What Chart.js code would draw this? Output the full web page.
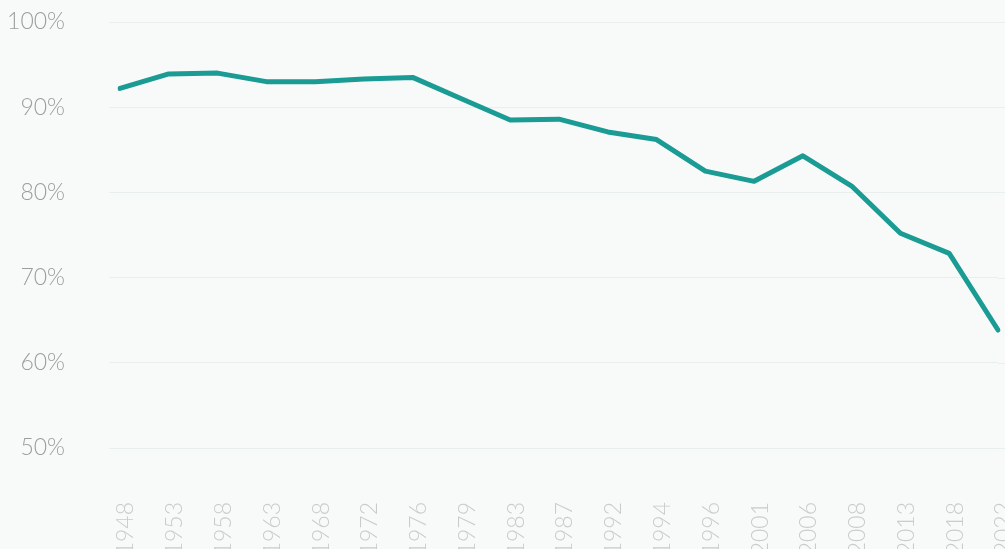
<!DOCTYPE html>
<html>
<head>
<meta charset="utf-8">
<script src="https://cdn.jsdelivr.net/npm/chart.js@4.4.1/dist/chart.umd.min.js"></script>
<style>
  html, body { margin: 0; padding: 0; background: #f8fafa; overflow: hidden; }
  #wrap { width: 1005px; height: 549px; overflow: hidden; position: relative; }
  canvas { position: absolute; left: 0; top: 0; }
</style>
</head>
<body>
<div id="wrap"><canvas id="c" width="1005" height="600"></canvas></div>
<script>
const years = ["1948","1953","1958","1963","1968","1972","1976","1979","1983","1987","1992","1994","1996","2001","2006","2008","2013","2018","2022"];
const shareValues = [92.2, 93.9, 94.0, 93.0, 93.0, 93.3, 93.5, 91.0, 88.5, 88.6, 87.1, 86.2, 82.5, 81.3, 84.3, 80.75, 75.2, 72.85, 63.85];
const yTicks = [50, 60, 70, 80, 90, 100];

const fontFamily = "Lato, 'Open Sans', sans-serif";

const gridExtend = {
  id: 'gridExtend',
  beforeDatasetsDraw(chart) {
    const y = chart.scales.y, ctx = chart.ctx, a = chart.chartArea;
    ctx.save();
    ctx.strokeStyle = '#e9eeee';
    ctx.lineWidth = 1;
    yTicks.forEach(v => {
      const py = Math.round(y.getPixelForValue(v)) + 0.5;
      ctx.beginPath(); ctx.moveTo(a.right, py); ctx.lineTo(chart.width, py); ctx.stroke();
    });
    ctx.restore();
  }
};

new Chart(document.getElementById('c'), {
  type: 'line',
  data: {
    labels: years,
    datasets: [{
      data: shareValues,
      borderColor: '#1a9b94',
      borderWidth: 5,
      pointRadius: 0,
      tension: 0,
      fill: false,
      borderCapStyle: 'round',
      borderJoinStyle: 'round'
    }]
  },
  plugins: [gridExtend],
  options: {
    responsive: false,
    animation: false,
    devicePixelRatio: 1,
    layout: { padding: { top: 22, right: 7, left: 0, bottom: 0 } },
    plugins: { legend: { display: false }, tooltip: { enabled: false } },
    scales: {
      x: {
        offset: false,
        grid: { display: false },
        border: { display: false },
        afterFit: (axis) => { axis.height = 152; axis.paddingLeft = 0; axis.paddingRight = 0; },
        ticks: {
          color: '#c9cccc',
          font: { family: fontFamily, size: 23, weight: 300 },
          minRotation: 90,
          maxRotation: 90,
          autoSkip: false,
          padding: 46,
          labelOffset: 6
        }
      },
      y: {
        min: 50,
        max: 100,
        afterBuildTicks: (axis) => { axis.ticks = yTicks.map(v => ({ value: v })); },
        afterFit: (axis) => { axis.width = 120; axis.paddingTop = 0; axis.paddingBottom = 0; },
        grid: { color: '#e9eeee', lineWidth: 1, tickLength: 11, drawTicks: true },
        border: { display: false },
        ticks: {
          color: '#9c9e9e',
          font: { family: fontFamily, size: 23, weight: 300 },
          padding: 44,
          callback: (v) => v + '%'
        }
      }
    }
  }
});
</script>
</body>
</html>
